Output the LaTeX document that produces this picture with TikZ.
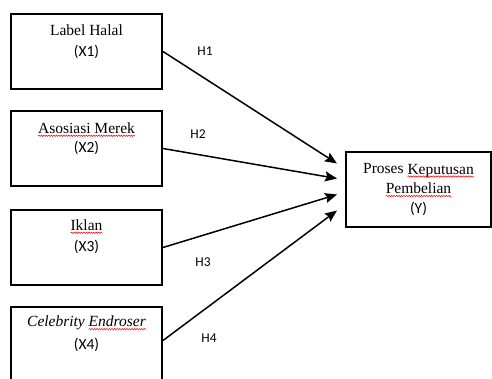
\documentclass[tikz,border=0pt]{standalone}
\usepackage{fontspec}
\setmainfont{Liberation Serif}
\setsansfont{Carlito}
\usetikzlibrary{arrows.meta,decorations.pathmorphing}
\newcommand\spellmark[1]{\tikz[baseline=(w.base)]{\node[draw=none,minimum size=0pt,inner sep=0pt,outer sep=0pt] (w) {#1};
  \draw[overlay,red,line width=0.5pt,decorate,decoration={snake,amplitude=0.7pt,segment length=2.5pt}] ([yshift=-2.5pt]w.base west) -- ([yshift=-2.5pt]w.base east);}}

\begin{document}
\begin{tikzpicture}[x=1pt,y=1pt,
  varbox/.style={rectangle,draw,line width=2pt,minimum width=151pt,minimum height=75pt,inner sep=0pt},
  ybox/.style={rectangle,draw,line width=2pt,minimum width=145pt,minimum height=75pt,inner sep=0pt,align=center,font=\fontsize{15.5}{19.5}\selectfont},
  vname/.style={font=\fontsize{15.5}{18}\selectfont,inner sep=0pt},
  vcode/.style={font=\sffamily\fontsize{15.5}{18}\selectfont,inner sep=0pt},
  hyp/.style={font=\sffamily\fontsize{13.5}{16}\selectfont,inner sep=0pt},
  path/.style={line width=1.5pt,-{Stealth[length=12pt,width=10pt,inset=2pt]}}]

 \useasboundingbox (0,0) rectangle (492,378);

 \node[varbox] (x1) at (86.5,326.5) {};
 \node[varbox] (x2) at (86.5,229.5) {};
 \node[varbox] (x3) at (86.5,130.5) {};
 \node[varbox] (x4) at (86.5,33.5) {};
 \node[ybox] (y) at (418.5,188.5) {Proses \spellmark{Keputusan}\\\spellmark{Pembelian}\\{\sffamily (Y)}};

 \node[vname] (n1) at (86.5,348) {Label Halal};
 \node[vcode] (c1) at (86.5,326) {(X1)};
 \node[vname] (n2) at (86.5,250) {\spellmark{Asosiasi Merek}};
 \node[vcode] (c2) at (86.5,230) {(X2)};
 \node[vname] (n3) at (86.5,153) {\spellmark{Iklan}};
 \node[vcode] (c3) at (86.5,131) {(X3)};
 \node[vname] (n4) at (86.5,55) {\itshape Celebrity \spellmark{Endroser}};
 \node[vcode] (c4) at (86.5,33) {(X4)};

 \draw[path] (x1.east) -- ([xshift=-8pt,yshift=26pt]y.west);
 \draw[path] (x2.east) -- ([xshift=-8pt,yshift=11pt]y.west);
 \draw[path] (x3.east) -- ([xshift=-8pt,yshift=-5pt]y.west);
 \draw[path] ([yshift=4pt]x4.east) -- ([xshift=-8pt,yshift=-21pt]y.west);

 \node[hyp] (h1) at (205,327) {H1};
 \node[hyp] (h2) at (198,244) {H2};
 \node[hyp] (h3) at (203,116) {H3};
 \node[hyp] (h4) at (209,40) {H4};
\end{tikzpicture}
\end{document}
